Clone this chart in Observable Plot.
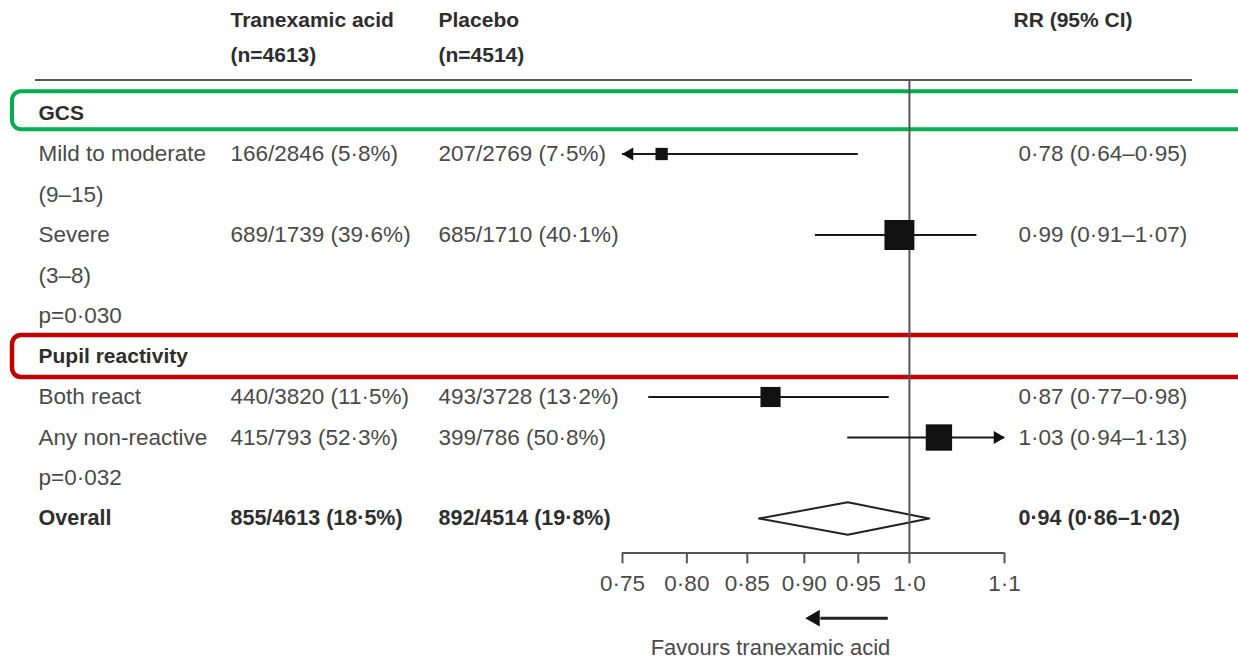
<!DOCTYPE html>
<html><head><meta charset="utf-8">
<script src="https://cdn.jsdelivr.net/npm/d3@7"></script>
<script src="https://cdn.jsdelivr.net/npm/@observablehq/plot@0.6"></script>
<style>
body{margin:0;background:#fff;}
#chart svg{display:block;}
</style></head><body><div id="chart"></div>
<script>
// ---- data ----
const headerTx = ["Tranexamic acid", "(n=4613)"];
const headerPl = ["Placebo", "(n=4514)"];
const headerRR = "RR (95% CI)";
const groupLabels = ["GCS", "Pupil reactivity"];
const groupRows = [0, 6];
const rowLabels = ["Mild to moderate", "(9–15)", "Severe", "(3–8)", "p=0·030", "Both react", "Any non-reactive", "p=0·032"];
const rowLabelRows = [1, 2, 3, 4, 5, 7, 8, 9];
const subgroupRows = [1, 3, 7, 8];
const tranexamic = ["166/2846 (5·8%)", "689/1739 (39·6%)", "440/3820 (11·5%)", "415/793 (52·3%)"];
const placebo = ["207/2769 (7·5%)", "685/1710 (40·1%)", "493/3728 (13·2%)", "399/786 (50·8%)"];
const rr = [0.78, 0.99, 0.87, 1.03];
const lower = [0.64, 0.91, 0.77, 0.94];
const upper = [0.95, 1.07, 0.98, 1.13];
const overallLabel = "Overall";
const overallRow = 10;
const overallTx = "855/4613 (18·5%)";
const overallPl = "892/4514 (19·8%)";
const overallRR = 0.94, overallLower = 0.86, overallUpper = 1.02;
const tickValues = [0.75, 0.80, 0.85, 0.90, 0.95, 1.0, 1.1];
const tickLabels = ["0·75", "0·80", "0·85", "0·90", "0·95", "1·0", "1·1"];
const favoursLabel = "Favours tranexamic acid";

// ---- helpers ----
const xMin = 0.75, xMax = 1.1;
const fmt = v => d3.format(".2f")(v).replace(".", "·");
const subs = rr.map((v, i) => {
  const se = (Math.log(upper[i]) - Math.log(lower[i])) / 3.92;
  return {
    row: subgroupRows[i], rr: v, lo: lower[i], hi: upper[i],
    x1: Math.max(lower[i], xMin), x2: Math.min(upper[i], xMax),
    w: 1 / (se * se),
    tx: tranexamic[i], pl: placebo[i],
    rrText: `${fmt(v)} (${fmt(lower[i])}–${fmt(upper[i])})`
  };
});
const clipLeft = subs.filter(d => d.lo < xMin);
const clipRight = subs.filter(d => d.hi > xMax);
const dH = 0.4;
const diamond = [
  {x: overallLower, y: overallRow}, {x: overallRR, y: overallRow - dH},
  {x: overallUpper, y: overallRow}, {x: overallRR, y: overallRow + dH},
  {x: overallLower, y: overallRow}
];
const font = "Liberation Sans, Arial, sans-serif";
const body = "#4a4a4a", dark = "#2e2e2e";
const fs = 22.5;
const colLabel = 38, colTx = 230, colPl = 438, colRR = 1018;
const yRule = -0.83, yAxis = 10.85;

const chart = Plot.plot({
  width: 1238, height: 661,
  marginTop: 0, marginBottom: 0, marginLeft: 0, marginRight: 0,
  style: {fontFamily: font, background: "#fff"},
  x: {type: "log", domain: [xMin, xMax], range: [622, 1004], axis: null},
  y: {type: "linear", domain: [0, 10], range: [113, 518], axis: null},
  r: {type: "sqrt", domain: [0, d3.max(subs, d => d.w)], range: [0, 16.9]},
  marks: [
    // highlight boxes
    Plot.rect([0], {y1: -0.54, y2: 0.40, insetLeft: 12, insetRight: -20, rx: 9, fill: "none", stroke: "#00b050", strokeWidth: 4}),
    Plot.rect([0], {y1: 5.48, y2: 6.52, insetLeft: 12, insetRight: -20, rx: 9, fill: "none", stroke: "#c00000", strokeWidth: 4.5}),
    // header rule
    Plot.ruleY([yRule], {insetLeft: 35, insetRight: 46, stroke: "#555", strokeWidth: 2}),
    // axis
    Plot.ruleY([yAxis], {x1: xMin, x2: xMax, stroke: "#555", strokeWidth: 2}),
    Plot.ruleX(tickValues, {y1: yAxis, y2: yAxis + 0.27, stroke: "#555", strokeWidth: 2}),
    Plot.text(tickValues, {x: d => d, y: yAxis + 0.75, text: (d, i) => tickLabels[i], fontSize: fs, fill: body}),
    // diamond
    Plot.line(diamond, {x: "x", y: "y", stroke: "#222", strokeWidth: 2, fill: "none"}),
    // line of no effect
    Plot.ruleX([1], {y1: yRule, y2: yAxis, stroke: "#555", strokeWidth: 2}),
    // CIs
    Plot.ruleY(subs, {y: "row", x1: "x1", x2: "x2", stroke: "#1a1a1a", strokeWidth: 2}),
    Plot.dot(clipLeft, {x: "x1", y: "row", symbol: "triangle", rotate: -90, r: 4.8, dx: 7, fill: "#111", stroke: "none"}),
    Plot.dot(clipRight, {x: "x2", y: "row", symbol: "triangle", rotate: 90, r: 4.8, dx: -7, fill: "#111", stroke: "none"}),
    Plot.dot(subs, {x: "rr", y: "row", r: "w", symbol: "square", fill: "#111", stroke: "none"}),
    // favours arrow
    Plot.ruleY([12.46], {x1: 0.915, x2: 0.979, stroke: "#222", strokeWidth: 3}),
    Plot.dot([12.46], {x: 0.901, y: d => d, symbol: "triangle", rotate: -90, r: 6.2, dx: 9.5, fill: "#111", stroke: "none"}),
    Plot.text([favoursLabel], {frameAnchor: "left", dx: 770, y: 13.2, text: d => d, textAnchor: "middle", fontSize: 22, fill: body}),
    // header
    Plot.text(headerTx, {frameAnchor: "left", dx: colTx, y: (d, i) => [-2.29, -1.45][i], text: d => d, textAnchor: "start", fontSize: 21, fontWeight: "bold", fill: dark}),
    Plot.text(headerPl, {frameAnchor: "left", dx: colPl, y: (d, i) => [-2.29, -1.45][i], text: d => d, textAnchor: "start", fontSize: 21, fontWeight: "bold", fill: dark}),
    Plot.text([headerRR], {frameAnchor: "left", dx: 1013, y: -2.29, text: d => d, textAnchor: "start", fontSize: 21, fontWeight: "bold", fill: dark}),
    // row labels
    Plot.text(groupLabels, {frameAnchor: "left", dx: colLabel, y: (d, i) => groupRows[i], text: d => d, textAnchor: "start", fontSize: 21, fontWeight: "bold", fill: dark}),
    Plot.text(rowLabels, {frameAnchor: "left", dx: colLabel, y: (d, i) => rowLabelRows[i], text: d => d, textAnchor: "start", fontSize: fs, fill: body}),
    Plot.text(subs, {frameAnchor: "left", dx: colTx, y: "row", text: "tx", textAnchor: "start", fontSize: fs, fill: body}),
    Plot.text(subs, {frameAnchor: "left", dx: colPl, y: "row", text: "pl", textAnchor: "start", fontSize: fs, fill: body}),
    Plot.text(subs, {frameAnchor: "left", dx: colRR, y: "row", text: "rrText", textAnchor: "start", fontSize: fs, fill: body}),
    // overall
    Plot.text([overallLabel], {frameAnchor: "left", dx: colLabel, y: overallRow, text: d => d, textAnchor: "start", fontSize: 21.5, fontWeight: "bold", fill: dark}),
    Plot.text([overallTx], {frameAnchor: "left", dx: colTx, y: overallRow, text: d => d, textAnchor: "start", fontSize: 21.5, fontWeight: "bold", fill: dark}),
    Plot.text([overallPl], {frameAnchor: "left", dx: colPl, y: overallRow, text: d => d, textAnchor: "start", fontSize: 21.5, fontWeight: "bold", fill: dark}),
    Plot.text([`${fmt(overallRR)} (${fmt(overallLower)}–${fmt(overallUpper)})`], {frameAnchor: "left", dx: colRR, y: overallRow, text: d => d, textAnchor: "start", fontSize: 21.5, fontWeight: "bold", fill: dark})
  ]
});
document.getElementById("chart").appendChild(chart);
</script></body></html>
